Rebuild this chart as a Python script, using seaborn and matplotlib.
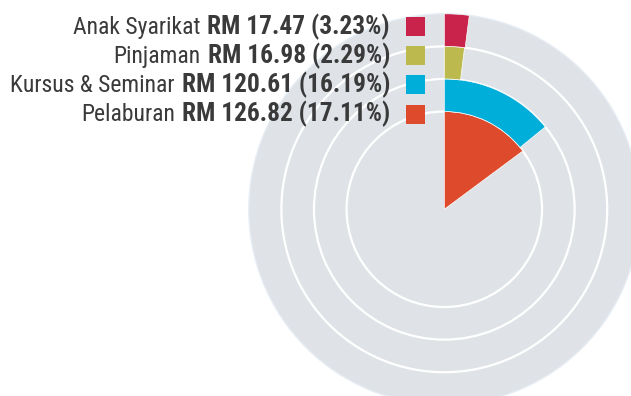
import numpy as np
import matplotlib
matplotlib.use("Agg")
import matplotlib.pyplot as plt
from matplotlib import font_manager
from matplotlib.patches import Rectangle
import seaborn as sns

# Spending categories, innermost ring first
categories = ["Pelaburan", "Kursus & Seminar", "Pinjaman", "Anak Syarikat"]
amounts_rm = [126.82, 120.61, 16.98, 17.47]
shares_pct = [17.11, 16.19, 2.29, 3.23]
ring_inner = [0, 3, 4, 5]
ring_outer = [3, 4, 5, 6]
palette = ["#DE4B2C", "#00AEDA", "#BCB94F", "#C9224B"]

# RM amount that corresponds to one full turn of the dial
FULL_TURN_RM = 855.0

sns.set_theme(style="white")
installed = {f.name for f in font_manager.fontManager.ttflist}
main_font = next((f for f in ["Liberation Sans Narrow", "Roboto Condensed",
                              "Archivo Narrow", "Liberation Sans"] if f in installed),
                 "DejaVu Sans")
plt.rcParams["font.family"] = [main_font, "DejaVu Sans"]

W, H = 631, 396
fig = plt.figure(figsize=(W / 100, H / 100), dpi=100)
fig.patch.set_facecolor("white")

cx, cy, R = 444.3, 209.3, 195.5
ax = fig.add_axes([(cx - R) / W, (H - cy - R) / H, 2 * R / W, 2 * R / H],
                  projection="polar")
ax.set_theta_zero_location("N")
ax.set_theta_direction(-1)
ax.set_facecolor("#DFE3E7")
ax.set_ylim(0, 6)
ax.set_xticks([])
ax.set_yticks([3, 4, 5])
ax.set_yticklabels([])
ax.set_axisbelow(True)
ax.grid(True, axis="y", color="white", linewidth=1.6)
ax.grid(False, axis="x")
ax.spines["polar"].set_color("#E6EDF4")
ax.spines["polar"].set_linewidth(1.0)

for amt, r0, r1, col in zip(amounts_rm, ring_inner, ring_outer, palette):
    ax.bar(0, r1 - r0, width=amt / FULL_TURN_RM * 2 * np.pi, bottom=r0,
           align="edge", color=col, edgecolor="white", linewidth=0.5, zorder=3)

# Legend rows: plain category name followed by bold amount and share
text_right = 390 / W
baselines = [34.3, 63.3, 92.3, 121.0]
square_tops = [16.7, 46.0, 75.0, 105.0]
txt_color = "#3A3A3A"
fs_name, fs_value = 17, 18.3

rows = list(zip(categories, amounts_rm, shares_pct, palette))[::-1]
fig.canvas.draw()
renderer = fig.canvas.get_renderer()
for (name, amt, pct, col), yb, st in zip(rows, baselines, square_tops):
    bold = fig.text(text_right, (H - yb) / H, f"RM {amt:.2f} ({pct:.2f}%)",
                    ha="right", va="baseline", fontsize=fs_value,
                    fontweight="bold", color=txt_color)
    bb = bold.get_window_extent(renderer)
    fig.text(bb.x0 / W - 7 / W, (H - yb) / H, name, ha="right", va="baseline",
             fontsize=fs_name, color=txt_color)
    fig.patches.append(Rectangle((406 / W, (H - st - 19) / H), 19 / W, 19 / H,
                                 transform=fig.transFigure, facecolor=col,
                                 edgecolor="none", figure=fig))

fig.savefig("out.png", dpi=100)
